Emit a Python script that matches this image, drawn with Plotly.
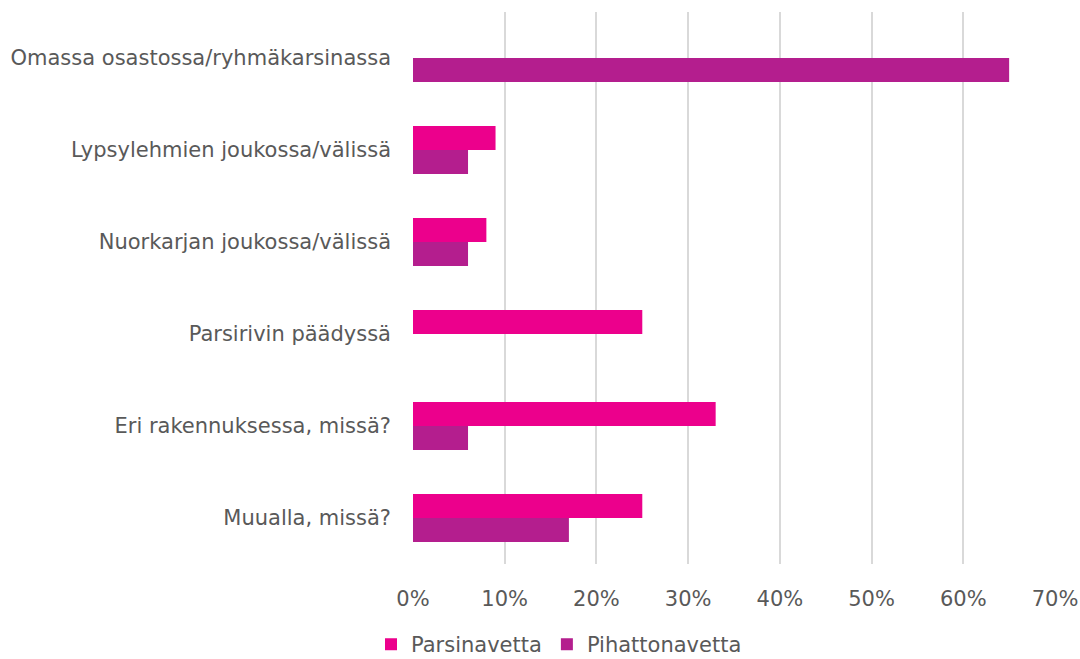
import plotly.graph_objects as go

categories = [
    "Omassa osastossa/ryhmäkarsinassa",
    "Lypsylehmien joukossa/välissä",
    "Nuorkarjan joukossa/välissä",
    "Parsirivin päädyssä",
    "Eri rakennuksessa, missä?",
    "Muualla, missä?",
]
parsinavetta = [0.0, 0.09, 0.08, 0.25, 0.33, 0.25]
pihattonavetta = [0.65, 0.06, 0.06, 0.0, 0.06, 0.17]
tick_vals = [0, 0.1, 0.2, 0.3, 0.4, 0.5, 0.6, 0.7]
tick_text = ["0%", "10%", "20%", "30%", "40%", "50%", "60%", "70%"]

FONT = "DejaVu Sans"
TXT = "#595959"
FS = 21

fig = go.Figure()
fig.add_trace(go.Bar(y=categories, x=parsinavetta, orientation="h",
                     name="Parsinavetta", marker=dict(color="#EC008C", line=dict(width=0))))
fig.add_trace(go.Bar(y=categories, x=pihattonavetta, orientation="h",
                     name="Pihattonavetta", marker=dict(color="#B41E8E", line=dict(width=0))))

fig.update_layout(
    width=1080, height=659,
    margin=dict(l=413, r=25, t=12, b=95, autoexpand=False),
    paper_bgcolor="white", plot_bgcolor="white",
    barmode="group", bargap=0.478, bargroupgap=0,
    font=dict(family=FONT, size=FS, color=TXT),
    xaxis=dict(range=[0, 0.7], tickvals=tick_vals, ticktext=tick_text,
               showgrid=True, gridcolor="#D9D9D9", gridwidth=1.5,
               zeroline=False, showline=False, ticks="", automargin=False,
               ticklabelstandoff=20, ticklabeloverflow="allow",
               tickfont=dict(family=FONT, size=FS, color=TXT)),
    yaxis=dict(autorange="reversed", showgrid=False, showline=False, ticks="",
               automargin=False, ticklabelstandoff=21,
               tickfont=dict(family=FONT, size=FS, color=TXT)),
    legend=dict(orientation="h", xref="container", yref="paper",
                x=0.5176, xanchor="center", y=-0.146, yanchor="middle",
                font=dict(family=FONT, size=FS, color=TXT),
                itemwidth=30, traceorder="normal"),
)

fig.write_html(
    "out.html",
    config={"displayModeBar": False},
    post_script="document.body.style.margin='0px';document.body.style.overflow='hidden';",
)
